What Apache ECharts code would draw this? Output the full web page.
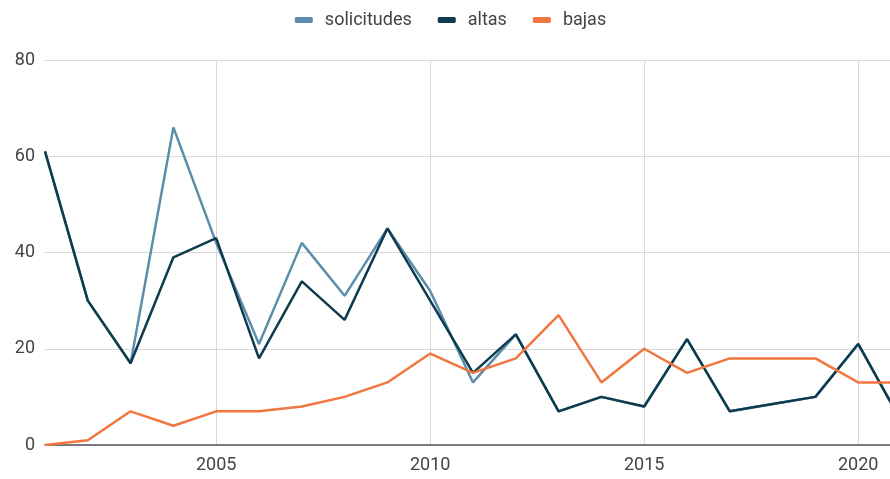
<!DOCTYPE html>
<html>
<head>
<meta charset="utf-8">
<script src="https://cdn.jsdelivr.net/npm/echarts@6/dist/echarts.min.js"></script>
<style>
html,body{margin:0;padding:0;background:#fff;overflow:hidden;width:890px;height:479px;}
#c{width:901px;height:479px;}
</style>
</head>
<body>
<div id="c"></div>
<script>
var years = ['2001','2002','2003','2004','2005','2006','2007','2008','2009','2010','2011','2012','2013','2014','2015','2016','2017','2018','2019','2020','2021'];
var solicitudes = [61,30,17,66,42,21,42,31,45,32,13,23,7,10,8,22,7,8.5,10,21,5];
var altas       = [61,30,17,39,43,18,34,26,45,30,15,23,7,10,8,22,7,8.5,10,21,5];
var bajas       = [0,1,7,4,7,7,8,10,13,19,15,18,27,13,20,15,18,18,18,13,13];
var yTicks = {min: 0, max: 80, interval: 20};

var FONT = 'Roboto';
var chart = echarts.init(document.getElementById('c'));
function showYear(idx, val){ return parseInt(val,10) % 5 === 0; }
chart.setOption({
  animation: false,
  textStyle: {fontFamily: FONT},
  legend: {
    top: 6,
    left: 'center',
    itemWidth: 18,
    itemHeight: 6,
    itemGap: 26,
    icon: 'roundRect',
    textStyle: {fontFamily: FONT, fontSize: 18, color: '#444', padding: [0,0,0,7]},
    data: ['solicitudes','altas','bajas']
  },
  grid: {left: 45, right: 0, top: 60, bottom: 34, containLabel: false},
  xAxis: {
    type: 'category',
    data: years,
    boundaryGap: false,
    axisLine: {show: true, lineStyle: {color: '#555', width: 1.5}},
    axisTick: {show: false},
    axisLabel: {interval: showYear, fontFamily: FONT, fontSize: 18, color: '#444', margin: 11},
    splitLine: {show: true, interval: showYear, lineStyle: {color: '#d9d9d9', width: 1}}
  },
  yAxis: {
    type: 'value',
    min: yTicks.min, max: yTicks.max, interval: yTicks.interval,
    axisLine: {show: false},
    axisTick: {show: false},
    axisLabel: {fontFamily: FONT, fontSize: 18, color: '#444', margin: 10},
    splitLine: {lineStyle: {color: '#d9d9d9', width: 1}}
  },
  series: [
    {name: 'solicitudes', type: 'line', data: solicitudes, showSymbol: false, symbol: 'none',
     lineStyle: {color: '#5b8eab', width: 2.5}, itemStyle: {color: '#5b8eab'}},
    {name: 'altas', type: 'line', data: altas, showSymbol: false, symbol: 'none',
     lineStyle: {color: '#0f3b4f', width: 2.5}, itemStyle: {color: '#0f3b4f'}},
    {name: 'bajas', type: 'line', data: bajas, showSymbol: false, symbol: 'none',
     lineStyle: {color: '#f2763f', width: 2.5}, itemStyle: {color: '#f2763f'}}
  ]
});
</script>
</body>
</html>
